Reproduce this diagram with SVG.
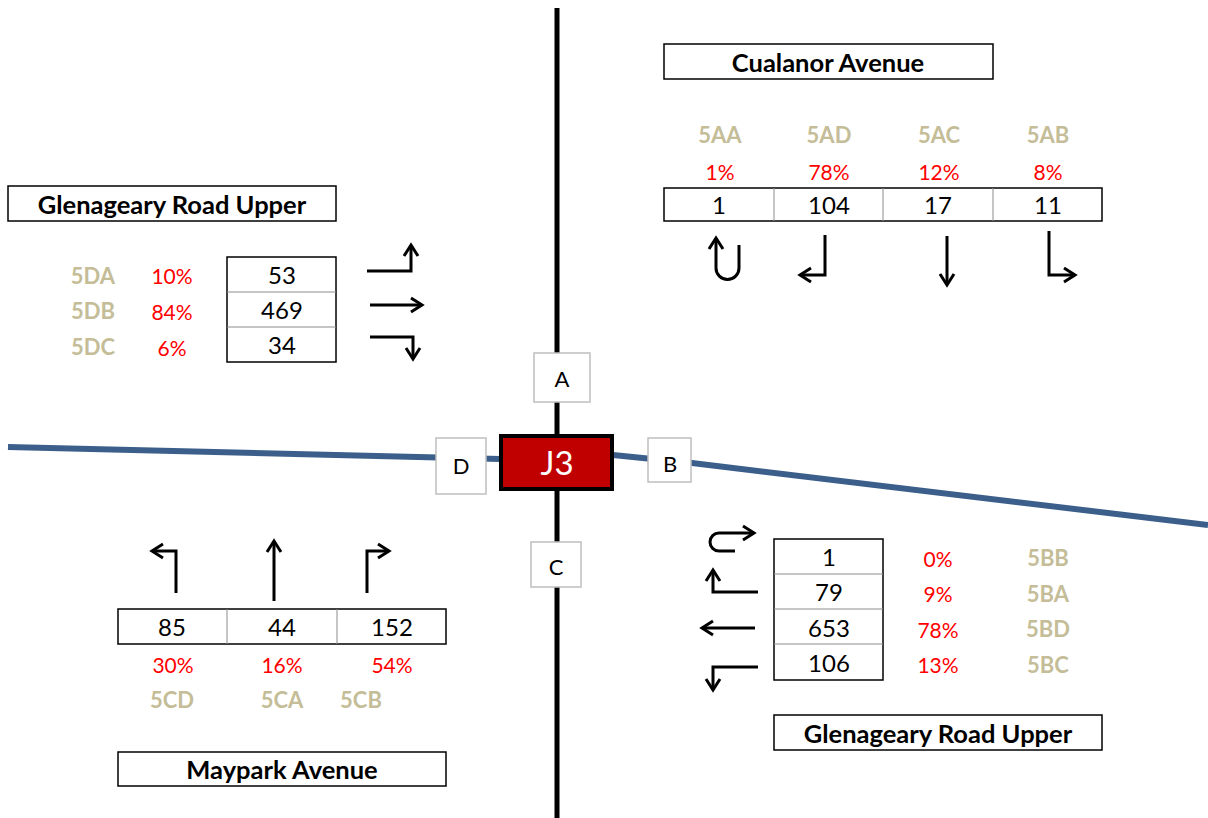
<svg xmlns="http://www.w3.org/2000/svg" width="1208" height="818" viewBox="0 0 1208 818">
  <style>
    text { font-family: Lato, "Liberation Sans", sans-serif; text-anchor: middle; dominant-baseline: central; }
    .title { font-size: 25.5px; font-weight: bold; fill: #000; }
    .num { font-size: 24px; fill: #000; }
    .pct { font-size: 21px; fill: #ff0000; }
    .code { font-size: 22px; font-weight: bold; fill: #c4bd97; }
    .arm { font-size: 22px; fill: #000; }
    .box { fill: #fff; stroke: #000; stroke-width: 1.5; }
    .grid { stroke: #8c8c8c; stroke-width: 1; }
    .armbox { fill: #fff; stroke: #bfbfbf; stroke-width: 1.5; }
    .mv { fill: none; stroke: #000; stroke-width: 3; marker-end: url(#head); }
  </style>
  <defs>
    <marker id="head" markerUnits="userSpaceOnUse" markerWidth="30" markerHeight="30" viewBox="-15 -15 30 30" refX="0" refY="0" orient="auto">
      <path d="M-11,-7 L0,0 L-11,7" fill="none" stroke="#000" stroke-width="3"/>
    </marker>
  </defs>
  <rect width="1208" height="818" fill="#fff"/>

  <!-- roads -->
  <g id="connectors">
    <line x1="557" y1="8" x2="557" y2="818" stroke="#000" stroke-width="5"/>
    <polyline points="8,447 500,459" fill="none" stroke="#3b5f8a" stroke-width="6"/>
    <polyline points="613,455 692,463 1208,525" fill="none" stroke="#3b5f8a" stroke-width="6"/>
  </g>

  <!-- arm labels -->
  <g id="arm-A"><rect class="armbox" x="534" y="353" width="56" height="49"/><text class="arm" x="562" y="378">A</text></g>
  <g id="arm-B"><rect class="armbox" x="648" y="438" width="43" height="44"/><text class="arm" x="670" y="463">B</text></g>
  <g id="arm-C"><rect class="armbox" x="531" y="542" width="50" height="45"/><text class="arm" x="556" y="566">C</text></g>
  <g id="arm-D"><rect class="armbox" x="436" y="438" width="50" height="56"/><text class="arm" x="461" y="465">D</text></g>

  <!-- junction -->
  <g id="junction-J3">
    <rect x="501" y="436" width="111" height="53" fill="#c00000" stroke="#000" stroke-width="4"/>
    <text x="557" y="462" font-size="33" fill="#fff">J3</text>
  </g>

  <!-- Arm A: Cualanor Avenue -->
  <g id="approach-A">
    <rect class="box" x="664" y="44" width="329" height="35"/>
    <text class="title" x="828" y="62">Cualanor Avenue</text>
    <text class="code" x="720" y="134">5AA</text>
    <text class="code" x="829" y="134">5AD</text>
    <text class="code" x="939" y="134">5AC</text>
    <text class="code" x="1048" y="134">5AB</text>
    <text class="pct" x="720" y="171">1%</text>
    <text class="pct" x="829" y="171">78%</text>
    <text class="pct" x="939" y="171">12%</text>
    <text class="pct" x="1048" y="171">8%</text>
    <rect class="box" x="664" y="188" width="438" height="33"/>
    <line class="grid" x1="774" y1="188" x2="774" y2="221"/>
    <line class="grid" x1="883" y1="188" x2="883" y2="221"/>
    <line class="grid" x1="993" y1="188" x2="993" y2="221"/>
    <text class="num" x="719" y="204">1</text>
    <text class="num" x="829" y="204">104</text>
    <text class="num" x="938" y="204">17</text>
    <text class="num" x="1048" y="204">11</text>
    <path class="mv" d="M739,245 V268 A11.5,11.5 0 0 1 716,268 V238"/>
    <path class="mv" d="M825,235 V275 H800"/>
    <path class="mv" d="M947,236 V285"/>
    <path class="mv" d="M1049,231 V275 H1075"/>
  </g>

  <!-- Arm D: Glenageary Road Upper (west) -->
  <g id="approach-D">
    <rect class="box" x="8" y="186" width="328" height="35"/>
    <text class="title" x="172" y="204">Glenageary Road Upper</text>
    <text class="code" x="93" y="275">5DA</text>
    <text class="code" x="93" y="310">5DB</text>
    <text class="code" x="93" y="346">5DC</text>
    <text class="pct" x="172" y="275">10%</text>
    <text class="pct" x="172" y="311">84%</text>
    <text class="pct" x="172" y="347">6%</text>
    <rect class="box" x="227" y="257" width="109" height="105"/>
    <line class="grid" x1="227" y1="292" x2="336" y2="292"/>
    <line class="grid" x1="227" y1="327" x2="336" y2="327"/>
    <text class="num" x="282" y="274">53</text>
    <text class="num" x="282" y="309">469</text>
    <text class="num" x="282" y="344">34</text>
    <path class="mv" d="M367,271 H411 V245"/>
    <path class="mv" d="M370,305 H422"/>
    <path class="mv" d="M370,337 H413 V359"/>
  </g>

  <!-- Arm B: Glenageary Road Upper (east) -->
  <g id="approach-B">
    <rect class="box" x="774" y="539" width="109" height="141"/>
    <line class="grid" x1="774" y1="574" x2="883" y2="574"/>
    <line class="grid" x1="774" y1="609" x2="883" y2="609"/>
    <line class="grid" x1="774" y1="644" x2="883" y2="644"/>
    <text class="num" x="829" y="556">1</text>
    <text class="num" x="829" y="591">79</text>
    <text class="num" x="829" y="627">653</text>
    <text class="num" x="829" y="662">106</text>
    <text class="pct" x="938" y="558">0%</text>
    <text class="pct" x="938" y="593">9%</text>
    <text class="pct" x="938" y="629">78%</text>
    <text class="pct" x="938" y="664">13%</text>
    <text class="code" x="1048" y="557">5BB</text>
    <text class="code" x="1048" y="593">5BA</text>
    <text class="code" x="1048" y="628">5BD</text>
    <text class="code" x="1048" y="664">5BC</text>
    <rect class="box" x="774" y="715" width="328" height="35"/>
    <text class="title" x="938" y="733">Glenageary Road Upper</text>
    <path class="mv" d="M735,551 H719 A9,9 0 0 1 719,533 H754"/>
    <path class="mv" d="M758,592 H713 V570"/>
    <path class="mv" d="M755,628 H702"/>
    <path class="mv" d="M758,667 H713 V690"/>
  </g>

  <!-- Arm C: Maypark Avenue -->
  <g id="approach-C">
    <path class="mv" d="M176,593 V551 H152"/>
    <path class="mv" d="M274,601 V541"/>
    <path class="mv" d="M367,593 V551 H389"/>
    <rect class="box" x="118" y="609" width="328" height="35"/>
    <line class="grid" x1="227" y1="609" x2="227" y2="644"/>
    <line class="grid" x1="337" y1="609" x2="337" y2="644"/>
    <text class="num" x="172" y="626">85</text>
    <text class="num" x="282" y="626">44</text>
    <text class="num" x="392" y="626">152</text>
    <text class="pct" x="173" y="664">30%</text>
    <text class="pct" x="282" y="664">16%</text>
    <text class="pct" x="392" y="664">54%</text>
    <text class="code" x="172" y="699">5CD</text>
    <text class="code" x="282" y="699">5CA</text>
    <text class="code" x="361" y="699">5CB</text>
    <rect class="box" x="118" y="752" width="328" height="34"/>
    <text class="title" x="282" y="769">Maypark Avenue</text>
  </g>
</svg>
